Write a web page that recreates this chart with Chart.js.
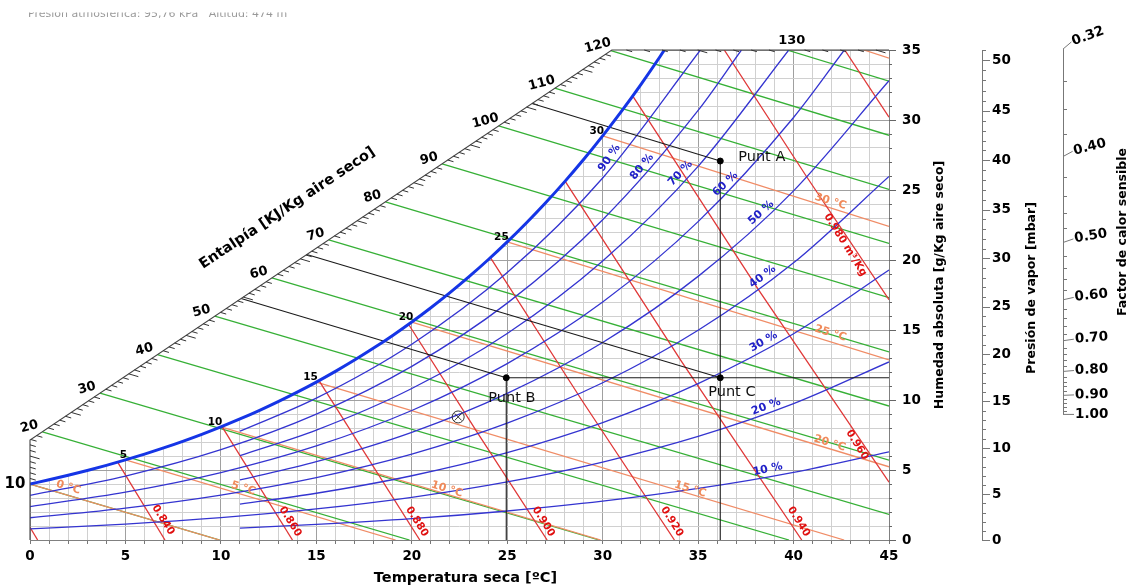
<!DOCTYPE html>
<html><head><meta charset="utf-8">
<script src="https://cdn.jsdelivr.net/npm/chart.js@4.4.0/dist/chart.umd.min.js"></script>
<style>html,body{margin:0;padding:0;background:#fff}canvas{display:block}</style>
</head><body>
<canvas id="c" width="1133" height="586" style="width:1133px;height:586px"></canvas>
<script>
// ---------------- DATA ----------------
const tempTicks = [0,5,10,15,20,25,30,35,40,45];            // ºC
const humTicks = [0,5,10,15,20,25,30,35];                     // g/kg
const pressureTicks = [0,5,10,15,20,25,30,35,40,45,50];       // mbar
const shfTicks = [0.32,0.40,0.50,0.60,0.70,0.80,0.90,1.00];
const enthalpyTicks = [10,20,30,40,50,60,70,80,90,100,110,120,130]; // kJ/kg

// saturation curve (100 %)
const satTemp = [0,1,2,3,4,5,6,7,8,9,10,11,12,13,14,15,16,17,18,19,20,21,22,23,24,25,26,27,28,29,30,31,32,33,33.23];
const satHum  = [3.996,4.298,4.620,4.963,5.329,5.720,6.136,6.578,7.049,7.549,8.081,8.646,9.247,9.885,10.563,11.281,12.043,12.851,13.707,14.614,15.574,16.592,17.670,18.810,20.017,21.293,22.644,24.072,25.581,27.177,28.864,30.647,32.530,34.520,35.0];
const satLabelTemps = [5,10,15,20,25,30];
const satLabelHum = [5.72,8.08,11.28,15.57,21.29,28.86];

// relative humidity curves [t, w]
const rh90 = [[11,7.77],[15,10.13],[20,13.98],[25,19.10],[30,25.86],[35.12,35]];
const rh80 = [[0,3.19],[5,4.57],[10,6.45],[15,8.99],[20,12.40],[25,16.92],[30,22.88],[35,30.69],[37.27,35]];
const rh70 = [[11,6.03],[15,7.85],[20,10.82],[25,14.75],[30,19.93],[35,26.69],[39.75,35]];
const rh60 = [[0,2.39],[5,3.42],[10,4.82],[15,6.72],[20,9.25],[25,12.60],[30,17.00],[35,22.74],[40,30.18],[42.66,35]];
const rh50 = [[11,4.29],[15,5.59],[20,7.69],[25,10.47],[30,14.11],[35,18.83],[40,24.94],[45,32.80]];
const rh40 = [[0,1.59],[5,2.28],[10,3.21],[15,4.46],[20,6.14],[25,8.35],[30,11.23],[35,14.98],[40,19.80],[45,25.97]];
const rh30 = [[11,2.57],[15,3.34],[20,4.59],[25,6.24],[30,8.39],[35,11.17],[40,14.73],[45,19.28]];
const rh20 = [[0,0.80],[5,1.14],[10,1.60],[15,2.22],[20,3.05],[25,4.15],[30,5.57],[35,7.40],[40,9.74],[45,12.72]];
const rh10 = [[11,0.85],[15,1.11],[20,1.52],[25,2.07],[30,2.77],[35,3.68],[40,4.83],[45,6.30]];
const rhNames = ['90 %','80 %','70 %','60 %','50 %','40 %','30 %','20 %','10 %'];

// enthalpy lines (kJ/kg)
const h10 = [[0,4.00],[9.94,0]];
const h20 = [[0.65,7.73],[19.88,0]];
const h30 = [[3.67,10.49],[29.82,0]];
const h40 = [[6.68,13.24],[39.76,0]];
const h50 = [[9.68,15.99],[45,1.83]];
const h60 = [[12.67,18.72],[45,5.70]];
const h70 = [[15.65,21.44],[45,9.57]];
const h80 = [[18.62,24.16],[45,13.44]];
const h90 = [[21.59,26.87],[45,17.31]];
const h100 = [[24.55,29.58],[45,21.18]];
const h110 = [[27.49,32.27],[45,25.04]];
const h120 = [[30.43,34.95],[45,28.91]];
const h130 = [[39.65,35],[45,32.78]];

// wet bulb lines (ºC)
const wb0 = [[0,4.00],[9.93,0]];
const wb5 = [[5,5.72],[19.15,0]];
const wb10 = [[10,8.08],[29.90,0]];
const wb15 = [[15,11.28],[42.65,0]];
const wb20 = [[20,15.57],[45,5.23]];
const wb25 = [[25,21.29],[45,12.86]];
const wb30 = [[30,28.86],[45,22.40]];
const wb35 = [[43.68,35],[45,34.42]];
const wbNames = ['0 °C','5 °C','10 °C','15 °C','20 °C','25 °C','30 °C'];

// specific volume lines (m3/kg)
const v082 = [[0,0.91],[0.40,0]];
const v084 = [[4.59,5.56],[7.07,0]];
const v086 = [[10.05,8.11],[13.75,0]];
const v088 = [[15.14,11.39],[20.42,0]];
const v090 = [[19.83,15.41],[23.42,7.7],[27.09,0]];
const v092 = [[24.12,20.17],[28.90,10],[33.76,0]];
const v094 = [[28.03,25.63],[34.11,12.8],[40.43,0]];
const v096 = [[31.57,31.72],[38.15,17.9],[45,4.13]];
const v098 = [[36.37,35],[40.66,26],[45,17.16]];
const v100 = [[42.68,35],[45,30.20]];
const volNames = ['0.840','0.860','0.880','0.900','0.920','0.940','0.960','0.980 m³/Kg'];

// process points
const pointNames = ['Punt A','Punt B','Punt C'];
const pointTemp = [36.16,24.95,36.16];
const pointHum = [27.07,11.59,11.59];
const isenthalpA = [[26.30,31.18],[36.16,27.07]];
const isenthalpB = [[11.06,17.25],[24.95,11.59]];
const isenthalpC = [[14.50,20.39],[36.16,11.59]];
const verticalA = [[36.16,27.07],[36.16,0]];
const verticalB = [[24.95,11.59],[24.95,0]];
const horizontalBC = [[24.95,11.59],[45,11.59]];
const protractorRef = [[22.43,8.79]];
// chart frame: left edge, enthalpy scale diagonal, top edge
const frame = [[0,0],[0,7.14],[30.48,35],[45,35]];

// ---------------- label placement (data coords / degrees) ----------------
const rhLabelPos = [[30.35,27.29,-55],[32.06,26.66,-50],[34.07,26.19,-47],[36.43,25.43,-44],[38.30,23.38,-42],[38.38,18.81,-37],[38.43,14.16,-30],[38.56,9.52,-21],[38.65,5.05,-12]];
const volLabelPos = [[6.97,1.43],[13.63,1.31],[20.27,1.31],[26.90,1.31],[33.63,1.31],[40.27,1.31],[43.33,6.79],[42.71,21.07]];
const wbLabelPos = [[2.01,3.76],[11.18,3.69],[21.84,3.62],[34.59,3.62],[41.89,6.90],[41.93,14.76],[41.93,24.17]];

// ---------------- colours ----------------
const C_GREEN='#36b036', C_RED='#e03838', C_ORANGE='#f08c66', C_BLUE='#3434d0', C_SAT='#1535e6', C_BLACK='#1a1a1a';

const toXY = a => a.map(p => ({x:p[0], y:p[1]}));
const datasets = [];
function addLine(data, color, width, order, extra){
  datasets.push(Object.assign({data:toXY(data), borderColor:color, borderWidth:width, pointRadius:0, showLine:true, fill:false, order:order, tension:0}, extra||{}));
}
const satPairs = satTemp.map((t,i)=>[t,satHum[i]]);
// white mask above saturation curve (hides grid there)
addLine(satPairs, 'rgba(0,0,0,0)', 0, 100, {fill:'end', backgroundColor:'#ffffff', cubicInterpolationMode:'monotone'});
[h10,h20,h30,h40,h50,h60,h70,h80,h90,h100,h110,h120,h130].forEach(d=>addLine(d,C_GREEN,1.3,20));
[wb0,wb5,wb10,wb15,wb20,wb25,wb30,wb35].forEach(d=>addLine(d,C_ORANGE,1.3,19));
[v082,v084,v086,v088,v090,v092,v094,v096,v098,v100].forEach(d=>addLine(d,C_RED,1.3,18));
[rh90,rh80,rh70,rh60,rh50,rh40,rh30,rh20,rh10].forEach(d=>addLine(d,C_BLUE,1.3,17,{cubicInterpolationMode:'monotone'}));
[isenthalpA,isenthalpB,isenthalpC,verticalA,verticalB,horizontalBC].forEach(d=>addLine(d,C_BLACK,1.1,16));
addLine(satPairs, C_SAT, 3, 5, {cubicInterpolationMode:'monotone'});
addLine(frame, '#444', 1.1, 4, {clip:false});
datasets.push({data:pointTemp.map((t,i)=>({x:t,y:pointHum[i]})), showLine:false, pointRadius:3, pointBackgroundColor:'#000', pointBorderColor:'#000', order:1});
datasets.push({data:toXY(protractorRef), showLine:false, pointRadius:6, pointStyle:'circle', pointBackgroundColor:'rgba(0,0,0,0)', pointBorderColor:'#333', pointBorderWidth:1, order:1});
datasets.push({data:toXY(protractorRef), showLine:false, pointRadius:5, pointStyle:'crossRot', pointBorderColor:'#333', pointBorderWidth:1, order:1});

// ---------------- scale helpers for the extra axes ----------------
function hPoint(h){ // point of the enthalpy scale for value h
  if (h <= 17.857) return [0, h/2.501];
  if (h <= 120.18){ const a=0.0017,b=3.3052,c=17.857-h; const t=(-b+Math.sqrt(b*b-4*a*c))/(2*a); return [t, 7.14+0.914*t]; }
  return [(h-87.535)/1.0711, 35];
}
const humOfPressure = p => 622*p/(957.6-p);        // mbar -> g/kg
const humOfShf = s => 8.97 + 12.28*(1-s)/s;        // SHF scale -> g/kg position

const FONT = '"DejaVu Sans"';
const decor = {
  id:'decor',
  afterDraw(chart){
    const {ctx, chartArea:ca} = chart;
    const xs = chart.scales.x, ys = chart.scales.y;
    const X = t => xs.getPixelForValue(t), Y = w => ys.getPixelForValue(w);
    const F = (sz, wt) => (wt||'bold')+' '+sz+'px '+FONT;
    const text = (s, px, py, font, color, rot, align, base) => {
      ctx.save(); ctx.translate(px,py); ctx.rotate((rot||0)*Math.PI/180);
      ctx.font=font; ctx.fillStyle=color||'#000'; ctx.textAlign=align||'center'; ctx.textBaseline=base||'middle';
      ctx.fillText(s,0,0); ctx.restore();
    };
    const seg = (x1,y1,x2,y2,color,lw) => { ctx.beginPath(); ctx.moveTo(x1,y1); ctx.lineTo(x2,y2); ctx.strokeStyle=color; ctx.lineWidth=lw||1; ctx.stroke(); };

    // cropped header text (only its lower edge is visible)
    ctx.save(); ctx.beginPath(); ctx.rect(0,12.5,600,8); ctx.clip();
    text('Presión atmosférica: 95,76 kPa   Altitud: 474 m', 28, 16.5, F(11,'normal'), '#999', 0, 'left', 'alphabetic');
    ctx.restore();

    // humidity axis tick marks
    for (let w=0; w<=35; w++){ const py=Math.round(Y(w))+0.5; seg(ca.right, py, ca.right+(w%5===0?7:3), py, '#666'); }

    // enthalpy scale ticks (along isenthalps)
    let dx = X(1)-X(0), dy = Y(-0.40)-Y(0); const L=Math.hypot(dx,dy); dx/=L; dy/=L;
    for (let h=10; h<=135; h++){
      if (h%10===0) continue;
      const p=hPoint(h), px=X(p[0]), py=Y(p[1]), len=(h%5===0)?10:6;
      seg(px,py,px+dx*len,py+dy*len,'#333',1);
    }
    enthalpyTicks.forEach(h=>{
      const p=hPoint(h), px=X(p[0]), py=Y(p[1]);
      if (h===10) text('10', px-15, py, F(15), '#000', 0);
      else if (h===130) text('130', px+5, py-9, F(13), '#000', 0);
      else text(String(h), px-13, py-5, F(13), '#000', -15);
    });
    text('Entalpía [KJ/Kg aire seco]', X(13.48), Y(23.7), F(14.5), '#000', -33.7);

    // saturation temperature labels
    satLabelTemps.forEach((t,i)=> text(String(t), X(t)+1.5, Y(satLabelHum[i])-5, F(10.5), '#000', 0, 'right'));
    // RH labels
    rhNames.forEach((s,i)=>{ const p=rhLabelPos[i]; text(s, X(p[0]), Y(p[1]), F(11), '#2020c8', p[2]); });
    // volume labels
    volNames.forEach((s,i)=>{ const p=volLabelPos[i]; text(s, X(p[0]), Y(p[1]), F(10.5), '#e01010', 58); });
    // wet bulb labels
    wbNames.forEach((s,i)=>{ const p=wbLabelPos[i]; text(s, X(p[0]), Y(p[1]), F(11), '#f08a5a', 17); });
    // process point labels
    text(pointNames[0], X(pointTemp[0])+18, Y(pointHum[0])-4, F(14.5,'normal'), '#111', 0, 'left');
    text(pointNames[1], X(pointTemp[1])-18, Y(pointHum[1])+20, F(14.5,'normal'), '#111', 0, 'left');
    text(pointNames[2], X(pointTemp[2])-12, Y(pointHum[2])+14.5, F(14.5,'normal'), '#111', 0, 'left');

    // axis titles
    text('Temperatura seca [ºC]', (ca.left+ca.right)/2+6, 578, F(14.5), '#000', 0);
    text('Humedad absoluta [g/Kg aire seco]', ca.right+51, 285, F(12.5), '#000', -90);

    // vapour pressure axis
    const px0 = ca.right+93;
    seg(px0+0.5, Y(0), px0+0.5, Y(35), '#777', 1);
    for (let p=0; p<=51; p++){
      const py=Math.round(Y(humOfPressure(p)))+0.5;
      seg(px0, py, px0+(p%5===0?8:4), py, '#777', 1);
    }
    pressureTicks.forEach(p=> text(String(p), px0+10, Y(humOfPressure(p)), F(13.5), '#000', 0, 'left'));
    text('Presión de vapor [mbar]', ca.right+143, 288, F(12.5), '#000', -90);

    // sensible heat factor axis
    const sx = ca.right+174;
    seg(sx+0.5, Y(humOfShf(0.32)), sx+0.5, Y(humOfShf(1.0)), '#777', 1);
    for (let k=16; k<=50; k++){
      const s=k/50; if (shfTicks.some(v=>Math.abs(v-s)<1e-6)) continue;
      const py=Math.round(Y(humOfShf(s)))+0.5; seg(sx, py, sx+4, py, '#777', 1);
    }
    shfTicks.forEach(s=>{
      const py=Y(humOfShf(s)); const r=(1-s)/s; const th=Math.min(19*r,42)*Math.PI/180;
      const ex=sx+11*Math.cos(th), ey=py-11*Math.sin(th);
      seg(sx, py, ex, ey, '#777', 1);
      text(s.toFixed(2), ex+1, ey, F(13.5), '#000', -(19*r)/2, 'left');
    });
    text('Factor de calor sensible', ca.right+234, 232, F(12.5), '#000', -90);
  }
};

const tickFont = {family:FONT, size:13.5, weight:'bold'};
new Chart(document.getElementById('c'), {
  type:'scatter',
  data:{datasets},
  options:{
    responsive:false, animation:false, devicePixelRatio:1, events:[],
    layout:{padding:{left:30, top:50, right:184, bottom:0}},
    plugins:{legend:{display:false}, tooltip:{enabled:false}},
    scales:{
      x:{type:'linear', position:'bottom', min:0, max:45,
        afterFit:s=>{s.height=46;},
        ticks:{stepSize:1, autoSkip:false, maxRotation:0, maxTicksLimit:100, padding:4, color:'#000', font:tickFont,
          callback:v=> tempTicks.includes(v) ? String(v) : ''},
        grid:{color:c=> (c.tick && c.tick.value%5===0) ? '#a0a0a0' : '#d0d0d0', lineWidth:1, drawTicks:true, tickLength:4, tickColor:'#777'},
        border:{display:true, color:'#808080', width:1}},
      y:{type:'linear', position:'right', min:0, max:35,
        afterFit:s=>{s.width=60;},
        ticks:{stepSize:1, autoSkip:false, maxTicksLimit:100, padding:13, color:'#000', font:tickFont,
          callback:v=> humTicks.includes(v) ? String(v) : ''},
        grid:{color:c=> (c.tick && c.tick.value%5===0) ? '#a0a0a0' : '#d0d0d0', lineWidth:1, drawTicks:false},
        border:{display:true, color:'#808080', width:1}}
    }
  },
  plugins:[decor]
});
</script>
</body></html>
